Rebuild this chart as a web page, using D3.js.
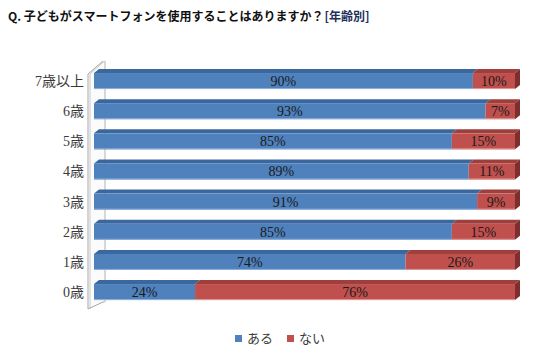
<!DOCTYPE html>
<html><head><meta charset="utf-8">
<script src="https://cdn.jsdelivr.net/npm/d3@7"></script>
<style>body{margin:0;background:#fff}svg{display:block}</style>
</head><body>
<svg id="c" width="549" height="364"></svg>
<script>
const categories = ["7歳以上","6歳","5歳","4歳","3歳","2歳","1歳","0歳"];
const aru = [90,93,85,89,91,85,74,24];
const nai = [10,7,15,11,9,15,26,76];
const seriesNames = ["ある","ない"];
const titleMain = "Q. 子どもがスマートフォンを使用することはありますか？";
const titleTag = "[年齢別]";

const svg = d3.select("#c");
const x = d3.scaleLinear().domain([0,100]).range([94,515]);
const y = d3.scaleBand().domain(categories).range([58.9,314.2]).padding(0.469);
const dx = 5, dy = 4;
const col = {
  aru:{front:"#4f81bd", top:"#3b679f", side:"#33598a", edge:"#8fb0da"},
  nai:{front:"#c0504d", top:"#9e3f3c", side:"#7d2f2d", edge:"#e09896"}
};

// wall
const wall = svg.append("g");
wall.append("path").attr("d","M89,73 L104,60 L104,302 L89,309 Z").attr("fill","#fbfbfb").attr("stroke","none");
wall.append("path").attr("d","M88,309 L88,74 L103,61").attr("fill","none").attr("stroke","#a6a6a6").attr("stroke-width",1);
wall.append("path").attr("d","M90,309 L90,74 L104.5,61").attr("fill","none").attr("stroke","#c8c8c8").attr("stroke-width",1);
wall.append("path").attr("d","M88,309 L103,302 L104.5,302").attr("fill","none").attr("stroke","#a6a6a6").attr("stroke-width",1);
wall.append("line").attr("x1",105).attr("x2",105).attr("y1",61).attr("y2",302).attr("stroke","#b0b0b0").attr("stroke-width",1);

const rows = categories.map((c,i)=>({c, a:aru[i], n:nai[i]}));
const g = svg.append("g");
rows.forEach(r=>{
  const y0 = y(r.c), h = y.bandwidth();
  const segs = [
    {k:"aru", x0:x(0), x1:x(r.a), v:r.a},
    {k:"nai", x0:x(r.a), x1:x(r.a+r.n), v:r.n}
  ];
  segs.forEach((s,j)=>{
    const cc = col[s.k];
    g.append("path").attr("d",`M${s.x0},${y0} L${s.x1},${y0} L${s.x1+dx},${y0-dy} L${s.x0+dx},${y0-dy} Z`)
      .attr("fill",cc.top);
    g.append("rect").attr("x",s.x0).attr("y",y0).attr("width",s.x1-s.x0).attr("height",h)
      .attr("fill",cc.front);
    g.append("line").attr("x1",s.x0).attr("x2",s.x1).attr("y1",y0+h-0.5).attr("y2",y0+h-0.5)
      .attr("stroke",cc.edge).attr("stroke-width",1);
    if(j===1){
      g.append("path").attr("d",`M${s.x1},${y0} L${s.x1+dx},${y0-dy} L${s.x1+dx},${y0+h-dy} L${s.x1},${y0+h} Z`)
        .attr("fill",cc.side);
    }
    g.append("text").attr("x",(s.x0+s.x1)/2).attr("y",y0+h/2+5)
      .attr("text-anchor","middle").attr("font-family","'Liberation Serif',serif")
      .attr("font-size",14).attr("fill","#1a1a1a").text(s.v+"%");
  });
  svg.append("text").attr("x",84).attr("y",y0+h/2+5).attr("text-anchor","end")
    .attr("font-family","'Liberation Serif','Noto Sans CJK JP',serif").attr("font-size",14)
    .attr("fill","#3a3a3a").text(r.c);
});

// legend
const lg = svg.append("g");
[{n:seriesNames[0],c:col.aru.front,x:235},{n:seriesNames[1],c:col.nai.front,x:287}].forEach(d=>{
  lg.append("rect").attr("x",d.x).attr("y",335).attr("width",7).attr("height",7).attr("fill",d.c);
  lg.append("text").attr("x",d.x+12).attr("y",343).attr("font-family","'Noto Sans CJK JP',sans-serif")
    .attr("font-size",13).attr("fill","#3a3a3a").text(d.n);
});

// title
const t1 = svg.append("text").attr("x",8).attr("y",21).attr("font-family","'Noto Sans CJK JP',sans-serif")
  .attr("font-size",12).attr("font-weight","bold").attr("fill","#111").text(titleMain);
const w1 = t1.node().getComputedTextLength();
svg.append("text").attr("x",8+w1+1).attr("y",21).attr("font-family","'Noto Sans CJK JP',sans-serif")
  .attr("font-size",12).attr("font-weight","bold").attr("fill","#1c2f5a").text(titleTag);
</script>
</body></html>
